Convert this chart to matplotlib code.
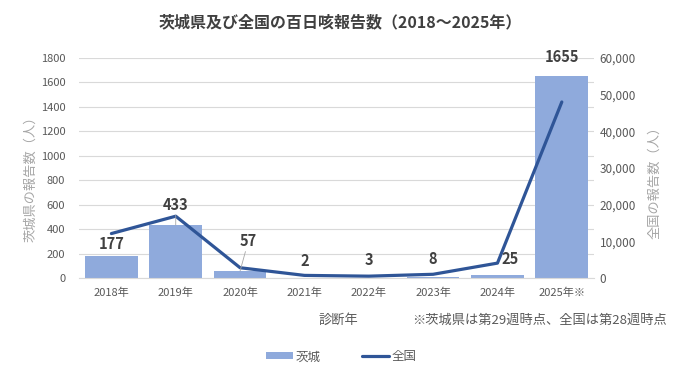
import matplotlib
matplotlib.use("Agg")
import matplotlib.pyplot as plt
import numpy as np

plt.rcParams['font.family'] = ['Noto Sans CJK JP', 'DejaVu Sans']

years = ["2018年", "2019年", "2020年", "2021年", "2022年", "2023年", "2024年", "2025年※"]
ibaraki = [177, 433, 57, 2, 3, 8, 25, 1655]
national = [12117, 16850, 2794, 707, 496, 1009, 4054, 48000]
left_ticks = [0, 200, 400, 600, 800, 1000, 1200, 1400, 1600, 1800]
right_ticks = [0, 10000, 20000, 30000, 40000, 50000, 60000]

# label offsets (points) and whether to draw a leader line
label_offsets = [(0, 3), (0, 9), (6, 16), (0, 6), (0, 7), (0, 7), (9, 6), (0, 8)]
leaders = [False, True, True, False, False, False, False, False]

bar_color = "#8FAADC"
line_color = "#2F5597"
tick_color = "#595959"
grid_color = "#D9D9D9"

fig = plt.figure(figsize=(6.8, 3.78), dpi=100)
ax = fig.add_axes([0.1165, 0.2646, 0.757, 0.582])
x = np.arange(len(years))

ax.set_axisbelow(True)
bars = ax.bar(x, ibaraki, width=0.82, color=bar_color, label="茨城", zorder=2)
ax.set_ylim(0, 1800)
ax.set_yticks(left_ticks)
ax.set_xlim(-0.5, len(years) - 0.5)
ax.set_xticks(x)
ax.set_xticklabels(years)
ax.grid(axis='y', color=grid_color, linewidth=0.8)
for s in ['top', 'right', 'left']:
    ax.spines[s].set_visible(False)
ax.spines['bottom'].set_color(grid_color)
ax.tick_params(axis='both', length=0, colors=tick_color, labelsize=8)
ax.tick_params(axis='y', pad=10)
ax.tick_params(axis='x', pad=7)

ax2 = ax.twinx()
line, = ax2.plot(x, national, color=line_color, linewidth=2.3, label="全国", zorder=3,
                 solid_capstyle='round')
ax2.set_ylim(0, 60000)
ax2.set_yticks(right_ticks)
ax2.set_yticklabels([f"{v:,}" for v in right_ticks])
for s in ['top', 'right', 'left', 'bottom']:
    ax2.spines[s].set_visible(False)
ax2.tick_params(axis='y', length=0, colors=tick_color, labelsize=8.5, pad=4)

for i, v in enumerate(ibaraki):
    dx, dy = label_offsets[i]
    kw = {}
    if leaders[i]:
        kw['arrowprops'] = dict(arrowstyle='-', color='#A6A6A6', lw=0.6, shrinkA=0, shrinkB=0)
    ax2.annotate(str(v), xy=(i, v * 60000 / 1800), xycoords='data',
                 xytext=(dx, dy), textcoords='offset points',
                 ha='center', va='bottom', fontsize=10.5, fontweight='bold',
                 color='#404040', zorder=5, **kw)

fig.text(0.5, 0.94, "茨城県及び全国の百日咳報告数（2018～2025年）", ha='center', va='center',
         fontsize=11.5, fontweight='bold', color='#404040')
fig.text(0.045, 0.535, "茨城県の報告数（人）", rotation=90, ha='center', va='center',
         fontsize=9.5, color='#A6A6A6')
fig.text(0.963, 0.525, "全国の報告数（人）", rotation=90, ha='center', va='center',
         fontsize=9.5, color='#A6A6A6')
fig.text(0.497, 0.152, "診断年", ha='center', va='center', fontsize=9.5, color=tick_color)
fig.text(0.98, 0.152, "※茨城県は第29週時点、全国は第28週時点", ha='right', va='center',
         fontsize=9.5, color=tick_color)

fig.legend(handles=[bars, line], labels=["茨城", "全国"], loc='center',
           bbox_to_anchor=(0.502, 0.056), ncol=2, frameon=False, fontsize=9,
           labelcolor=tick_color, handlelength=2.2, handleheight=0.5,
           columnspacing=3.3, handletextpad=0.2)

fig.savefig("out.png", dpi=100)
